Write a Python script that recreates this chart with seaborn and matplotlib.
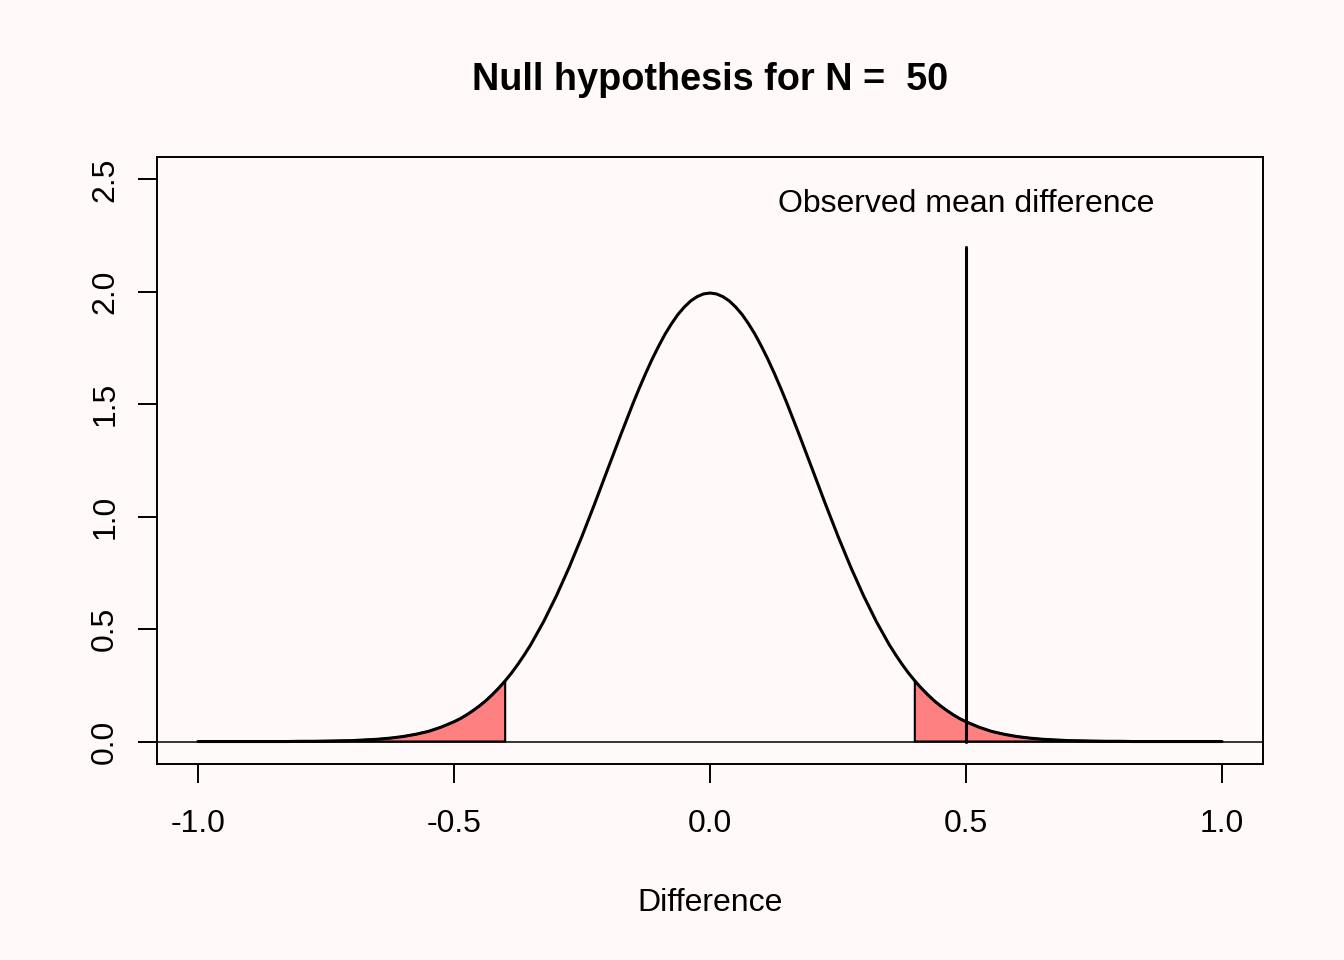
import numpy as np
import pandas as pd
import matplotlib
matplotlib.use("Agg")
import matplotlib.pyplot as plt
import seaborn as sns

# values
difference = [-1.0, -0.975, -0.95, -0.925, -0.9, -0.875, -0.85, -0.825, -0.8, -0.775,
              -0.75, -0.725, -0.7, -0.675, -0.65, -0.625, -0.6, -0.575, -0.55, -0.525,
              -0.5, -0.4875, -0.475, -0.4625, -0.45, -0.4375, -0.425, -0.4125, -0.4,
              -0.3875, -0.375, -0.3625, -0.35, -0.325, -0.3, -0.275,
              -0.25, -0.225, -0.2, -0.175, -0.15, -0.1375, -0.125, -0.1125, -0.1,
              -0.0875, -0.075, -0.0625, -0.05, -0.0375, -0.025, -0.0125,
              0.0, 0.0125, 0.025, 0.0375, 0.05, 0.0625, 0.075, 0.0875, 0.1,
              0.1125, 0.125, 0.1375, 0.15, 0.175, 0.2, 0.225,
              0.25, 0.275, 0.3, 0.325, 0.35, 0.3625, 0.375, 0.3875, 0.4,
              0.4125, 0.425, 0.4375, 0.45, 0.4625, 0.475, 0.4875,
              0.5, 0.525, 0.55, 0.575, 0.6, 0.625, 0.65, 0.675, 0.7, 0.725,
              0.75, 0.775, 0.8, 0.825, 0.85, 0.875, 0.9, 0.925, 0.95, 0.975, 1.0]
density = [0.0, 0.0, 0.0, 0.0, 0.0, 0.0, 0.0, 0.0, 0.001, 0.001,
           0.002, 0.003, 0.004, 0.007, 0.010, 0.015, 0.022, 0.032, 0.045, 0.064,
           0.088, 0.102, 0.119, 0.138, 0.159, 0.182, 0.209, 0.238, 0.270,
           0.305, 0.344, 0.386, 0.431, 0.533, 0.648, 0.775,
           0.913, 1.059, 1.210, 1.360, 1.506, 1.575, 1.641, 1.703, 1.760,
           1.813, 1.859, 1.900, 1.933, 1.960, 1.979, 1.991,
           1.995, 1.991, 1.979, 1.960, 1.933, 1.900, 1.859, 1.813, 1.760,
           1.703, 1.641, 1.575, 1.506, 1.360, 1.210, 1.059,
           0.913, 0.775, 0.648, 0.533, 0.431, 0.386, 0.344, 0.305, 0.270,
           0.238, 0.209, 0.182, 0.159, 0.138, 0.119, 0.102,
           0.088, 0.064, 0.045, 0.032, 0.022, 0.015, 0.010, 0.007, 0.004, 0.003,
           0.002, 0.001, 0.001, 0.0, 0.0, 0.0, 0.0, 0.0, 0.0, 0.0, 0.0]
critical = 0.4
observed = 0.5
observed_top = 2.2
n_subjects = 50
x_ticks = [-1.0, -0.5, 0.0, 0.5, 1.0]
y_ticks = [0.0, 0.5, 1.0, 1.5, 2.0, 2.5]

df = pd.DataFrame({"Difference": difference, "Density": density})

sns.set_theme(style="ticks")
bg = "#FFFAF9"
fs = 23
plt.rcParams["font.family"] = ["Liberation Sans", "DejaVu Sans"]
plt.rcParams["figure.facecolor"] = bg
plt.rcParams["axes.facecolor"] = bg
plt.rcParams["text.color"] = "black"
plt.rcParams["axes.labelcolor"] = "black"

fig = plt.figure(figsize=(13.44, 9.6), dpi=100)
ax = fig.add_axes([157 / 1344, 1 - 764 / 960, (1263 - 157) / 1344, (764 - 157) / 960])

# shaded tails
left = df[df["Difference"] <= -critical]
right = df[df["Difference"] >= critical]
lx = list(left["Difference"]) + [-critical, left["Difference"].min()]
ly = list(left["Density"]) + [0, 0]
rx = [critical] + list(right["Difference"]) + [right["Difference"].max()]
ry = [0] + list(right["Density"]) + [0]
ax.fill(lx, ly, facecolor="#FF8080", edgecolor="black", linewidth=1.5, closed=True)
ax.fill(rx, ry, facecolor="#FF8080", edgecolor="black", linewidth=1.5, closed=True)

sns.lineplot(data=df, x="Difference", y="Density", color="black", linewidth=2.2, ax=ax)
ax.lines[-1].set_solid_joinstyle("round")
ax.axhline(0, color="black", linewidth=1.1)
ax.plot([observed, observed], [0, observed_top], color="black", linewidth=2.2)
ax.text(observed, 2.39, "Observed mean difference", ha="center", va="center", fontsize=fs)

ax.set_xlim(-1.08, 1.08)
ax.set_ylim(-0.1, 2.6)
ax.set_xticks(x_ticks)
ax.set_xticklabels([f"{v:.1f}" for v in x_ticks])
ax.set_yticks(y_ticks)
ax.set_yticklabels([f"{v:.1f}" for v in y_ticks], rotation=90, va="center")
ax.tick_params(axis="both", direction="out", length=13.5, width=1.4, colors="black",
               labelsize=fs, pad=19)
ax.tick_params(axis="y", pad=13)
for s in ax.spines.values():
    s.set_visible(True)
    s.set_color("black")
    s.set_linewidth(1.4)

ax.set_xlabel("Difference", fontsize=fs, labelpad=35)
ax.set_ylabel("")
fig.text(710 / 1344, 1 - 80 / 960, f"Null hypothesis for N =  {n_subjects}", ha="center",
         va="center", fontsize=27.3, fontweight="bold")

fig.savefig("out.png", dpi=100, facecolor=bg)
